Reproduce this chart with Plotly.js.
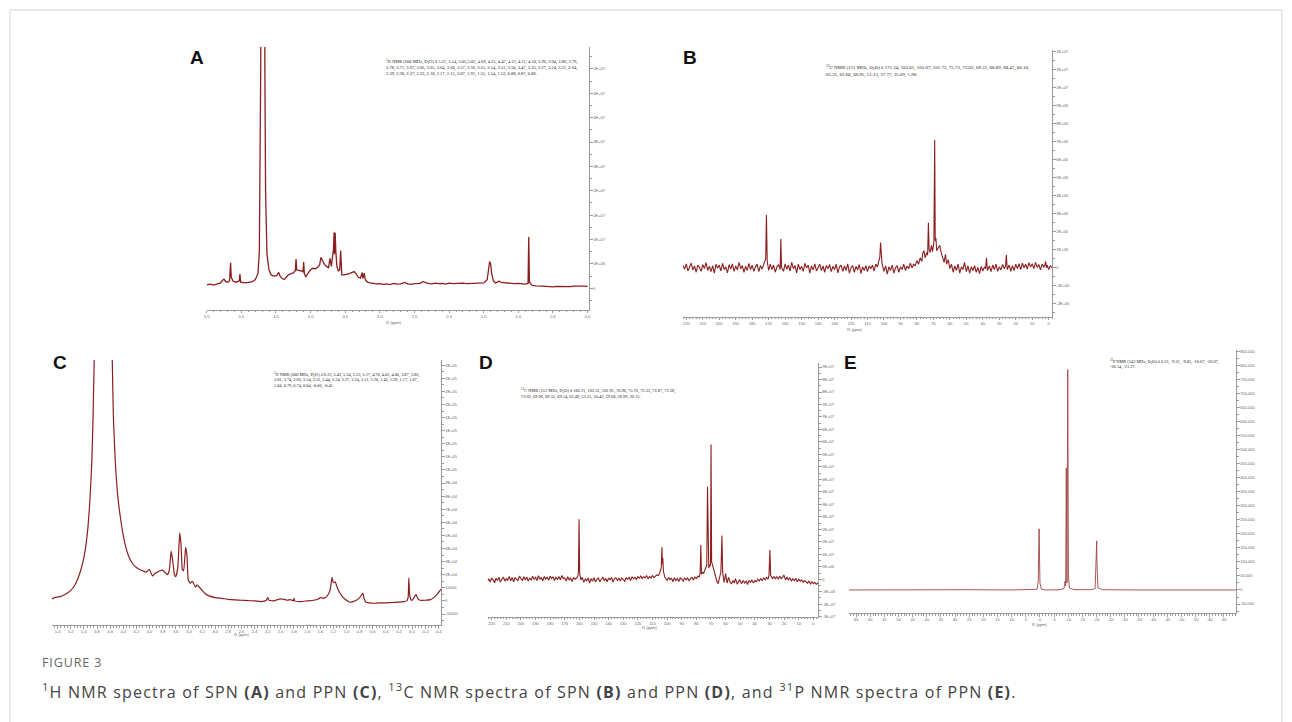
<!DOCTYPE html>
<html>
<head>
<meta charset="utf-8">
<script src="https://cdn.plot.ly/plotly-3.0.1.min.js"></script>
<style>html,body{margin:0;padding:0;background:#fff;}#chart{width:1292px;height:722px;}</style>
</head>
<body>
<div id="chart"></div>
<script>
// ---------- Panel A: 1H NMR of SPN ----------
const aPpm = [5.50,5.45,5.40,5.35,5.30,5.27,5.25,5.23,5.20,5.17,5.155,5.145,5.12,5.08,5.05,5.03,5.02,5.01,4.95,4.90,4.85,4.80,4.76,4.74,4.73,4.72,4.71,4.69,4.67,4.66,4.65,4.63,4.60,4.57,4.53,4.49,4.46,4.44,4.41,4.38,4.35,4.32,4.28,4.25,4.22,4.21,4.20,4.17,4.14,4.11,4.10,4.09,4.07,4.04,4.00,3.97,3.93,3.90,3.87,3.85,3.83,3.80,3.77,3.74,3.72,3.70,3.67,3.66,3.655,3.645,3.635,3.62,3.60,3.58,3.565,3.56,3.55,3.52,3.48,3.44,3.40,3.37,3.34,3.31,3.28,3.255,3.245,3.225,3.21,3.18,3.14,3.10,3.05,3.00,2.95,2.90,2.85,2.80,2.75,2.70,2.64,2.60,2.55,2.50,2.42,2.38,2.35,2.30,2.25,2.20,2.15,2.10,2.05,2.00,1.95,1.90,1.85,1.80,1.75,1.70,1.65,1.60,1.55,1.50,1.45,1.43,1.415,1.40,1.385,1.36,1.33,1.30,1.28,1.25,1.20,1.15,1.10,1.05,1.00,0.95,0.90,0.86,0.85,0.84,0.80,0.75,0.70,0.65,0.60,0.55,0.50,0.45,0.40,0.35,0.30,0.25,0.20,0.15,0.10,0.05,0.00];
const aInt = [0.14,0.17,0.13,0.19,0.22,0.33,0.37,0.28,0.25,0.30,1.05,0.45,0.30,0.25,0.28,0.30,0.58,0.25,0.22,0.24,0.26,0.35,0.60,1.50,4.0,9.0,20,30,20,9.0,4.0,1.4,0.75,0.55,0.50,0.52,0.65,0.50,0.40,0.36,0.45,0.55,0.60,0.63,0.72,1.20,0.75,0.74,0.72,0.68,1.08,0.60,0.48,0.60,0.76,0.82,0.80,0.86,0.95,1.27,1.15,0.98,0.90,0.85,1.23,0.90,1.60,2.30,1.40,2.28,1.50,0.90,0.72,0.75,1.55,0.90,0.55,0.55,0.57,0.60,0.65,0.69,0.58,0.45,0.42,0.65,0.40,0.62,0.35,0.25,0.22,0.20,0.18,0.19,0.16,0.18,0.15,0.20,0.17,0.18,0.24,0.18,0.16,0.19,0.20,0.27,0.24,0.20,0.18,0.21,0.19,0.20,0.17,0.21,0.19,0.20,0.18,0.21,0.19,0.20,0.18,0.20,0.22,0.22,0.35,0.70,1.10,1.00,0.60,0.30,0.22,0.25,0.30,0.24,0.22,0.20,0.21,0.19,0.20,0.18,0.17,0.20,2.10,0.25,0.12,0.10,0.08,0.09,0.08,0.06,0.06,0.08,0.07,0.09,0.08,0.07,0.09,0.10,0.08,0.09,0.08];
const aXTicks = [5.5,5.0,4.5,4.0,3.5,3.0,2.5,2.0,1.5,1.0,0.5,0.0];
const aXTickText = ["5.5","5.0","4.5","4.0","3.5","3.0","2.5","2.0","1.5","1.0","0.5","0.0"];
const aYTicks = [0,1,2,3,4,5,6,7,8,9];
const aYTickText = ["0","5E+06","1E+07","2E+07","2E+07","3E+07","3E+07","4E+07","4E+07","5E+07"];
const aNote = "<sup>1</sup>H NMR (600 MHz, D<sub>2</sub>O) δ 5.21, 5.14, 5.05,5.02, 4.69, 4.55, 4.47, 4.12, 4.11, 4.10, 3.96, 3.94, 3.86, 3.79,<br>3.78, 3.71, 3.67, 3.66, 3.65, 3.64, 3.60, 3.57, 3.56, 3.55, 3.54, 3.51, 3.50, 3.47, 3.35, 3.27, 3.24, 3.21, 2.64,<br>2.39, 2.38, 2.37, 2.33, 2.18, 2.17, 2.15, 2.07, 1.91, 1.55, 1.54, 1.53, 0.88, 0.87, 0.86.";

// ---------- Panel B: 13C NMR of SPN (ppm, intensity) ----------
const bSpectrum = [[222,0.12],[221,-0.08],[220,0.22],[219,-0.18],[218,0.05],[217,0.25],[216,-0.12],[215,0.1],[214,-0.25],[213,0.15],[212,0.02],[211,-0.2],[210,0.18],[209,-0.05],[208,0.28],[207,-0.15],[206,0.08],[205,-0.22],[204,0.12],[203,-0.3],[202,0.2],[201,-0.02],[200,0.15],[199,-0.18],[198,0.25],[197,-0.1],[196,0.05],[195,-0.28],[194,0.18],[193,-0.08],[192,0.22],[191,-0.2],[190,0.1],[189,-0.12],[188,0.3],[187,-0.05],[186,0.12],[185,-0.25],[184,0.08],[183,-0.15],[182,0.24],[181,-0.1],[180,0.15],[179,-0.2],[178,0.05],[177,0.2],[176,-0.22],[175,0.12],[174,-0.08],[173,0.18],[172.3,0.35],[171.8,0.5],[171.34,2.93],[170.9,0.4],[170,-0.15],[169,0.2],[168,-0.1],[167,0.15],[166,-0.25],[165,0.05],[164,0.18],[163,-0.1],[162.61,1.6],[162.2,0.05],[161,-0.2],[160,0.22],[159,-0.08],[158,0.15],[157,-0.18],[156,0.3],[155,-0.05],[154,0.12],[153,-0.28],[152,0.2],[151,-0.1],[150,0.08],[149,-0.2],[148,0.25],[147,-0.02],[146,0.15],[145,-0.3],[144,0.1],[143,-0.12],[142,0.22],[141,-0.18],[140,0.05],[139,0.2],[138,-0.15],[137,0.1],[136,-0.25],[135,0.12],[134,-0.05],[133,0.18],[132,-0.22],[131,0.08],[130,-0.1],[129,0.2],[128,-0.28],[127,0.05],[126,0.15],[125,-0.2],[124,0.1],[123,-0.15],[122,0.22],[121,-0.3],[120,0.0],[119,0.12],[118,-0.25],[117,0.08],[116,-0.12],[115,0.18],[114,-0.32],[113,0.05],[112,-0.15],[111,0.12],[110,-0.22],[109,0.1],[108,-0.05],[107,0.15],[106,-0.18],[105,0.2],[104,0.05],[103,0.35],[102.5,0.6],[102.07,1.4],[101.72,0.9],[101.2,0.25],[100,-0.2],[99,0.1],[98,-0.35],[97,0.05],[96,-0.15],[95,0.15],[94,-0.3],[93,0.0],[92,0.12],[91,-0.25],[90,0.05],[89,-0.1],[88,0.2],[87,-0.15],[86,0.1],[85,-0.05],[84,0.25],[83,0.0],[82,0.2],[81,0.1],[80,0.4],[79,0.2],[78,0.55],[77,0.35],[76.5,0.8],[75.73,0.95],[75,0.55],[74,0.85],[73.5,0.7],[73.02,2.5],[72.6,1.0],[72,0.85],[71.2,1.25],[70.5,0.9],[69.7,1.4],[69.21,7.1],[68.89,1.5],[68.47,1.65],[68,0.95],[67.2,1.1],[66.16,1.25],[65.31,0.85],[64.5,0.6],[63.5,0.3],[62.66,0.75],[62,0.2],[61,0.45],[60,-0.05],[59,0.2],[58,-0.25],[57,0.1],[56,-0.15],[55,0.2],[54,-0.3],[53,0.05],[52,-0.1],[51.15,0.3],[50,-0.22],[49,0.1],[48,-0.3],[47,0.05],[46,-0.15],[45,0.12],[44,-0.25],[43,0.02],[42,-0.32],[41,0.08],[40,-0.18],[39,0.05],[38.3,-0.05],[37.77,0.55],[37.2,-0.15],[36,0.1],[35,-0.22],[34,0.15],[33,-0.1],[32,0.2],[31,-0.2],[30,0.05],[29,-0.12],[28,0.18],[27,-0.05],[26.2,0.1],[25.69,0.7],[25.2,-0.1],[24,0.15],[23,-0.2],[22,0.12],[21,-0.15],[20,0.2],[19,-0.05],[18,0.22],[17,-0.1],[16,0.25],[15,0.0],[14,0.2],[13,-0.08],[12,0.28],[11,0.05],[10,0.22],[9,-0.05],[8,0.3],[7,0.02],[6,0.18],[5,-0.12],[4,0.2],[3,0.05],[2.3,0.15],[1.9,0.35],[1.4,0.0],[1,0.15],[0,-0.1],[-1,0.12],[-2,0.0]];
const bXTicks = [220,210,200,190,180,170,160,150,140,130,120,110,100,90,80,70,60,50,40,30,20,10,0];
const bXTickText = ["220","210","200","190","180","170","160","150","140","130","120","110","100","90","80","70","60","50","40","30","20","10","0"];
const bYTicks = [-2,-1,0,1,2,3,4,5,6,7,8,9,10,11,12];
const bYTickText = ["-2E+06","-1E+06","0","1E+06","2E+06","3E+06","4E+06","5E+06","6E+06","7E+06","8E+06","9E+06","1E+07","1E+07","1E+07"];
const bNote = "<sup>13</sup>C NMR (151 MHz, D<sub>2</sub>O) δ 171.34, 162.61, 102.07, 101.72, 75.73, 73.02, 69.21, 68.89, 68.47, 66.16,<br>65.31, 62.66, 60.95, 51.15, 37.77, 25.69, 1.90.";

// ---------- Panel C: 1H NMR of PPN ----------
const cPpm = [5.49,5.45,5.40,5.35,5.30,5.25,5.20,5.15,5.10,5.05,5.00,4.97,4.94,4.91,4.88,4.86,4.84,4.80,4.70,4.60,4.57,4.55,4.52,4.49,4.45,4.40,4.35,4.30,4.25,4.20,4.15,4.10,4.05,4.02,4.00,3.98,3.95,3.92,3.88,3.84,3.80,3.76,3.73,3.70,3.67,3.65,3.62,3.60,3.57,3.54,3.52,3.50,3.48,3.45,3.43,3.41,3.38,3.35,3.33,3.30,3.28,3.25,3.20,3.15,3.10,3.00,2.90,2.80,2.70,2.60,2.50,2.40,2.30,2.22,2.20,2.18,2.10,2.05,2.00,1.95,1.90,1.85,1.81,1.80,1.79,1.70,1.60,1.50,1.43,1.40,1.35,1.30,1.25,1.22,1.20,1.17,1.14,1.10,1.05,1.00,0.95,0.90,0.85,0.80,0.77,0.75,0.73,0.70,0.65,0.60,0.50,0.40,0.30,0.20,0.12,0.08,0.06,0.05,0.04,0.02,0.00,-0.03,-0.06,-0.09,-0.12,-0.20,-0.28,-0.33,-0.38,-0.44];
const cInt = [0.15,0.25,0.30,0.35,0.45,0.60,0.80,1.10,1.60,2.30,3.30,4.20,5.50,7.50,10.5,14,19,25,30,25,19,14,10.5,8.3,6.6,5.0,3.9,3.2,2.8,2.55,2.4,2.3,2.2,2.35,2.4,2.15,1.9,2.1,2.2,2.3,2.35,2.15,2.0,2.3,3.8,3.2,2.0,1.85,2.5,5.2,4.3,2.4,2.3,4.1,3.5,1.6,1.35,1.5,1.35,1.05,1.2,1.1,0.8,0.55,0.4,0.25,0.2,0.12,0.08,0.05,0.02,0.0,-0.05,0.05,0.25,0.05,0.0,0.1,0.15,0.12,0.05,0.1,0.0,0.2,0.0,-0.05,0.0,0.05,0.15,0.25,0.2,0.35,0.8,1.8,1.4,1.45,1.0,0.6,0.25,0.05,-0.1,-0.05,0.05,0.25,0.45,0.6,0.15,-0.1,-0.15,-0.18,-0.15,-0.15,-0.12,-0.1,-0.05,0.0,0.3,1.75,0.6,0.1,0.05,0.25,0.5,0.15,0.05,0.05,0.1,0.25,0.5,0.9];
const cXTicks = [5.4,5.2,5.0,4.8,4.6,4.4,4.2,4.0,3.8,3.6,3.4,3.2,3.0,2.8,2.6,2.4,2.2,2.0,1.8,1.6,1.4,1.2,1.0,0.8,0.6,0.4,0.2,0.0,-0.2,-0.4];
const cXTickText = ["5.4","5.2","5.0","4.8","4.6","4.4","4.2","4.0","3.8","3.6","3.4","3.2","3.0","2.8","2.6","2.4","2.2","2.0","1.8","1.6","1.4","1.2","1.0","0.8","0.6","0.4","0.2","0.0","-0.2","-0.4"];
const cYTicks = [-1,0,1,2,3,4,5,6,7,8,9,10,11,12,13,14,15,16,17,18];
const cYTickText = ["-10000","0","10000","2E+04","3E+04","4E+04","5E+04","6E+04","7E+04","8E+04","9E+04","1E+05","1E+05","1E+05","1E+05","1E+05","2E+05","2E+05","2E+05","2E+05"];
const cNote = "<sup>1</sup>H NMR (600 MHz, D<sub>2</sub>O) δ 8.33, 5.43, 5.34, 5.33, 5.17, 4.70, 4.05, 4.00, 3.87, 3.86,<br>3.81, 3.74, 3.66, 3.54, 3.52, 3.44, 3.34, 3.27, 3.24, 3.11, 2.20, 1.43, 1.28, 1.17, 1.07,<br>1.04, 0.79, 0.74, 0.04, -0.06, -0.41.";

// ---------- Panel D: 13C NMR of PPN (ppm, intensity) ----------
const dSpectrum = [[222.7,-0.15],[222,0.05],[221,-0.22],[220,0.1],[219,-0.05],[218,-0.28],[217,0.08],[216,-0.1],[215,0.15],[214,-0.22],[213,0.0],[212,0.18],[211,-0.15],[210,0.05],[209,-0.08],[208,0.22],[207,-0.12],[206,0.15],[205,-0.2],[204,0.12],[203,0.0],[202,-0.1],[201,0.25],[200,0.05],[199,-0.12],[198,0.2],[197,-0.05],[196,0.18],[195,-0.15],[194,0.1],[193,-0.08],[192,0.25],[191,0.0],[190,0.15],[189,-0.1],[188,0.28],[187,0.02],[186,0.12],[185,-0.12],[184,0.22],[183,0.0],[182,0.18],[181,-0.08],[180,0.25],[179,0.05],[178,0.2],[177,-0.1],[176,0.15],[175,0.0],[174,0.22],[173,-0.05],[172,0.3],[171,0.05],[170,0.12],[169,-0.15],[168,0.2],[167,-0.05],[166,0.1],[165,-0.18],[164,0.15],[163,0.0],[162,0.1],[161,0.25],[160.6,0.7],[160.21,4.8],[159.8,0.5],[159,-0.05],[158,0.15],[157,-0.25],[156,0.02],[155,-0.12],[154,0.1],[153,-0.3],[152,0.05],[151,-0.15],[150,0.12],[149,-0.22],[148,0.0],[147,0.1],[146,-0.2],[145,-0.05],[144,0.18],[143,-0.1],[142,0.05],[141,-0.2],[140,0.1],[139,-0.05],[138,0.15],[137,-0.22],[136,0.05],[135,0.12],[134,-0.1],[133,0.08],[132,-0.15],[131,0.1],[130,0.0],[129,-0.18],[128,0.12],[127,0.0],[126,0.15],[125,-0.1],[124,0.2],[123,0.05],[122,0.15],[121,-0.02],[120,0.2],[119,0.08],[118,0.25],[117,0.05],[116,0.2],[115,0.12],[114,0.28],[113,0.05],[112,0.22],[111,0.1],[110,0.3],[109,0.12],[108,0.25],[107,0.35],[106,0.3],[105,0.5],[104,0.95],[103.51,2.56],[103.2,1.2],[102.95,1.7],[102.5,0.6],[101.5,0.15],[100,-0.1],[99,0.15],[98,-0.05],[97,0.1],[96,-0.2],[95,0.12],[94,-0.1],[93,0.05],[92,-0.18],[91,0.1],[90,0.0],[89,-0.15],[88,0.12],[87,-0.05],[86,0.1],[85,-0.12],[84,0.05],[83,0.15],[82,-0.05],[81,0.18],[80,0.05],[79,0.25],[78,0.2],[77.4,0.5],[76.96,2.75],[76.5,0.4],[75.7,0.55],[75,0.45],[74.5,0.65],[73.8,0.8],[73.33,0.95],[72.87,1.1],[72.38,7.4],[72.02,1.2],[71.5,0.9],[71,1.15],[70.5,1.05],[70.3,1.3],[69.96,10.8],[69.55,1.4],[69.14,1.2],[68.5,0.8],[68,0.6],[67,0.3],[66,-0.15],[65,-0.35],[64,0.2],[63.2,0.6],[62.49,3.5],[62,0.5],[61,-0.25],[60,0.45],[59,-0.3],[58,0.15],[57,-0.2],[56,-0.38],[55,-0.1],[54,-0.3],[53.25,0.05],[52,-0.4],[51,-0.15],[50.42,-0.05],[49,-0.35],[48,-0.1],[47,-0.3],[46,-0.15],[45,-0.42],[44,-0.1],[43,-0.25],[42,-0.05],[41,-0.3],[40,-0.1],[39,-0.2],[38,0.0],[37,-0.15],[36,0.05],[35,-0.1],[34,0.1],[33,-0.05],[32,0.15],[31,0.0],[30.3,0.35],[29.68,2.35],[29.2,0.3],[28,0.05],[27,0.2],[26,0.05],[25,0.2],[24,0.02],[23,0.25],[22,0.05],[21,0.15],[20.15,0.35],[19,-0.05],[18,0.15],[17,-0.05],[16,0.1],[15,-0.15],[14,0.05],[13,-0.1],[12,0.08],[11,-0.2],[10,0.0],[9,-0.15],[8,-0.05],[7,-0.25],[6,-0.1],[5,-0.2],[4,-0.32],[3,-0.15],[2,-0.38],[1,-0.2],[0,-0.35],[-1,-0.25],[-2,-0.4],[-3.2,-0.3]];
const dXTicks = [220,210,200,190,180,170,160,150,140,130,120,110,100,90,80,70,60,50,40,30,20,10,0];
const dXTickText = ["220","210","200","190","180","170","160","150","140","130","120","110","100","90","80","70","60","50","40","30","20","10","0"];
const dYTicks = [-3,-2,-1,0,1,2,3,4,5,6,7,8,9,10,11,12,13,14,15,16,17];
const dYTickText = ["-1E+07","-1E+07","-5E+06","0","5E+06","1E+07","2E+07","2E+07","3E+07","3E+07","4E+07","4E+07","5E+07","5E+07","6E+07","6E+07","7E+07","7E+07","8E+07","8E+07","9E+07"];
const dNote = "<sup>13</sup>C NMR (151 MHz, D<sub>2</sub>O) δ 160.21, 103.51, 102.95, 76.96, 75.70, 73.33, 72.87, 72.38,<br>72.02, 69.96, 69.55, 69.14, 62.49, 53.25, 50.42, 29.68, 26.99, 20.15.";

// ---------- Panel E: 31P NMR of PPN ----------
const ePpm = [67.5,55,40,25,10,2,1,0.6,0.31,0.0,-0.5,-2,-7,-8.5,-8.9,-9.1,-9.31,-9.55,-9.83,-10.07,-10.4,-12,-18,-19.5,-20.07,-20.14,-20.5,-21.27,-22,-35,-50,-69.3];
const eInt = [0.0,0.02,0.0,0.02,0.0,0.01,0.05,0.6,4.36,0.5,0.05,0.0,0.02,0.1,0.64,0.3,8.7,0.5,15.7,1.0,0.15,0.02,0.02,0.1,3.5,2.0,0.15,0.1,0.02,0.0,0.02,0.0];
const eXTicks = [65,60,55,50,45,40,35,30,25,20,15,10,5,0,-5,-10,-15,-20,-25,-30,-35,-40,-45,-50,-55,-60,-65];
const eXTickText = ["65","60","55","50","45","40","35","30","25","20","15","10","5","0","-5","-10","-15","-20","-25","-30","-35","-40","-45","-50","-55","-60","-65"];
const eYTicks = [-1,0,1,2,3,4,5,6,7,8,9,10,11,12,13,14,15,16,17];
const eYTickText = ["-50,000","0","50,000","100,000","150,000","200,000","250,000","300,000","350,000","400,000","450,000","500,000","550,000","600,000","650,000","700,000","750,000","800,000","850,000"];
const eNote = "<sup>31</sup>P NMR (243 MHz, D<sub>2</sub>O) δ 0.31, -9.31, -9.83, -10.07, -20.07,<br>-20.14, -21.27.";

const panelLetters = ["A","B","C","D","E"];
const figureLabel = "FIGURE 3";
const captionText = "<sup>1</sup>H NMR spectra of SPN <b>(A)</b> and PPN <b>(C)</b>, <sup>13</sup>C NMR spectra of SPN <b>(B)</b> and PPN <b>(D)</b>, and <sup>31</sup>P NMR spectra of PPN <b>(E)</b>.";

// ---------- layout helpers ----------
const W = 1292, H = 722;
const fx = p => p / W;
const fy = p => 1 - p / H;
const lineCol = '#8b1e1e';
const axisCol = '#9a9a9a';
const tickFont = {family: 'Liberation Sans, Arial, sans-serif', size: 4, color: '#666'};

function xAx(domPx, range, vals, text, minorDt) {
  return {domain: [fx(domPx[0]), fx(domPx[1])], range: range, autorange: false,
    tickmode: 'array', tickvals: vals, ticktext: text, tickfont: tickFont,
    showline: true, linecolor: axisCol, linewidth: 1, ticks: 'outside', ticklen: 2.5, tickcolor: axisCol,
    minor: {dtick: minorDt, ticks: 'outside', ticklen: 1.5, tickcolor: axisCol},
    showgrid: false, zeroline: false, fixedrange: true};
}
function yAx(domPx, range, vals, text, anchor) {
  return {domain: [fy(domPx[1]), fy(domPx[0])], range: range, autorange: false, side: 'right', anchor: anchor,
    tickmode: 'array', tickvals: vals, ticktext: text, tickfont: tickFont,
    showline: true, linecolor: axisCol, linewidth: 1, ticks: 'outside', ticklen: 2.5, tickcolor: axisCol,
    minor: {dtick: 0.5, ticks: 'outside', ticklen: 1.5, tickcolor: axisCol},
    showgrid: false, zeroline: false, fixedrange: true};
}

const traces = [
  {x: aPpm, y: aInt, xaxis: 'x', yaxis: 'y', type: 'scatter', mode: 'lines', line: {color: lineCol, width: 1.3}, hoverinfo: 'skip'},
  {x: bSpectrum.map(p => p[0]), y: bSpectrum.map(p => p[1]), xaxis: 'x2', yaxis: 'y2', type: 'scatter', mode: 'lines', line: {color: lineCol, width: 1.1}, hoverinfo: 'skip'},
  {x: cPpm, y: cInt, xaxis: 'x3', yaxis: 'y3', type: 'scatter', mode: 'lines', line: {color: lineCol, width: 1.2, shape: 'spline', smoothing: 0.4}, hoverinfo: 'skip'},
  {x: dSpectrum.map(p => p[0]), y: dSpectrum.map(p => p[1]), xaxis: 'x4', yaxis: 'y4', type: 'scatter', mode: 'lines', line: {color: lineCol, width: 1.1}, hoverinfo: 'skip'},
  {x: ePpm, y: eInt, xaxis: 'x5', yaxis: 'y5', type: 'scatter', mode: 'lines', line: {color: '#a04444', width: 0.9}, hoverinfo: 'skip'}
];

function noteFont(s) { return {family: 'Liberation Serif, Times New Roman, serif', size: s, color: '#222'}; }
function pxAnn(x, y, text, font, xa, ya, align) {
  return {xref: 'paper', yref: 'paper', x: fx(x), y: fy(y), text: text, showarrow: false,
    xanchor: xa || 'center', yanchor: ya || 'middle', align: align || 'left', font: font};
}
const letterFont = {family: 'Liberation Sans, Arial, sans-serif', size: 19, color: '#111'};
const smallTitle = {family: 'Liberation Sans, Arial, sans-serif', size: 4, color: '#666'};

const annotations = [
  pxAnn(197, 57, '<b>' + panelLetters[0] + '</b>', letterFont),
  pxAnn(690, 57, '<b>' + panelLetters[1] + '</b>', letterFont),
  pxAnn(60, 362, '<b>' + panelLetters[2] + '</b>', letterFont),
  pxAnn(486, 362, '<b>' + panelLetters[3] + '</b>', letterFont),
  pxAnn(851, 362, '<b>' + panelLetters[4] + '</b>', letterFont),
  pxAnn(384, 56, aNote, noteFont(4.5), 'left', 'top'),
  pxAnn(824, 62, bNote, noteFont(4.95), 'left', 'top'),
  pxAnn(272, 369, cNote, noteFont(4.3), 'left', 'top'),
  pxAnn(519, 385, dNote, noteFont(4.4), 'left', 'top'),
  pxAnn(1108, 356, eNote, noteFont(4.35), 'left', 'top'),
  pxAnn(394, 322, 'f1 (ppm)', smallTitle),
  pxAnn(855, 329, 'f1 (ppm)', smallTitle),
  pxAnn(242, 634, 'f1 (ppm)', smallTitle),
  pxAnn(650, 627, 'f1 (ppm)', smallTitle),
  pxAnn(1040, 624, 'f1 (ppm)', smallTitle),
  pxAnn(40, 662, figureLabel, {family: 'Open Sans, Liberation Sans, sans-serif', size: 12.5, color: '#666'}, 'left'),
  pxAnn(40, 691, captionText, {family: 'Open Sans, Liberation Sans, sans-serif', size: 16, color: '#444'}, 'left')
];

const layout = {
  width: W, height: H, margin: {l: 0, r: 0, t: 0, b: 0},
  paper_bgcolor: '#fff', plot_bgcolor: 'rgba(0,0,0,0)', showlegend: false,
  xaxis:  xAx([206.7, 589], [5.5, -0.02], aXTicks, aXTickText, 0.1),
  yaxis:  yAx([47, 309.5], [-0.87, 9.9], aYTicks, aYTickText, 'x'),
  xaxis2: xAx([683, 1052], [222, -2], bXTicks, bXTickText, 2),
  yaxis2: yAx([50, 316.7], [-2.72, 12.1], bYTicks, bYTickText, 'x2'),
  xaxis3: xAx([51.7, 441], [5.49, -0.44], cXTicks, cXTickText, 0.05),
  yaxis3: yAx([360, 625], [-1.84, 18.4], cYTicks, cYTickText, 'x3'),
  xaxis4: xAx([487.7, 818], [222.7, -3.2], dXTicks, dXTickText, 2),
  yaxis4: yAx([363.3, 616.7], [-3.0, 17.3], dYTicks, dYTickText, 'x4'),
  xaxis5: xAx([849, 1236], [67.5, -69.3], eXTicks, eXTickText, 1),
  yaxis5: yAx([350, 613], [-1.64, 17.1], eYTicks, eYTickText, 'x5'),
  annotations: annotations,
  shapes: [
    {type: 'rect', xref: 'paper', yref: 'paper', x0: fx(10), x1: fx(1282), y0: fy(760), y1: fy(10),
     line: {color: '#d4d4d4', width: 1}, fillcolor: 'rgba(0,0,0,0)', layer: 'below'}
  ]
};
layout.xaxis.anchor = 'y'; layout.xaxis2.anchor = 'y2'; layout.xaxis3.anchor = 'y3';
layout.xaxis4.anchor = 'y4'; layout.xaxis5.anchor = 'y5';

Plotly.newPlot('chart', traces, layout, {displayModeBar: false, staticPlot: true}).then(gd => {
  gd.querySelectorAll('.annotation-text').forEach(t => {
    const s = t.textContent || '';
    if (s.indexOf('NMR spectra of SPN') >= 0) t.style.letterSpacing = '1.2px';
    else if (s === figureLabel) t.style.letterSpacing = '0.9px';
  });
});
</script>
</body>
</html>
